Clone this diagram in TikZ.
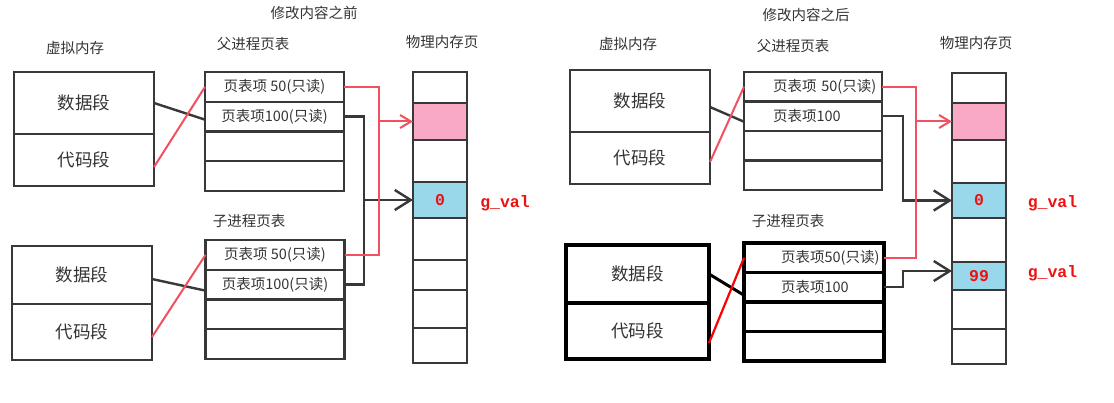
\documentclass[tikz,border=0pt]{standalone}
\usepackage{fontspec}
\setmainfont{Noto Sans CJK SC}
\newfontfamily\valfont{Liberation Mono}
\usetikzlibrary{arrows.meta, positioning, calc}
\definecolor{inkgray}{HTML}{383838}
\definecolor{textgray}{HTML}{333333}
\definecolor{penred}{HTML}{F0505F}
\definecolor{valred}{HTML}{EE1111}
\definecolor{pagepink}{HTML}{F9A9C6}
\definecolor{pageblue}{HTML}{98D8EA}
\newcommand{\fs}[1]{\fontsize{#1}{#1}\selectfont}

\begin{document}
\begin{tikzpicture}[x=1pt, y=-1pt,
    head/.style={text=textgray, font=\fs{14.5}},
    seg/.style={draw=inkgray, line width=2.4pt, outer sep=0pt, minimum width=140pt, text=textgray, font=\fs{17.5}},
    boldseg/.style={seg, draw=black, line width=3.4pt, minimum width=143pt},
    entry/.style={draw=inkgray, line width=2.4pt, outer sep=0pt, inner sep=0pt, minimum width=139pt, minimum height=29.75pt, text=textgray, font=\fs{14.5}},
    boldentry/.style={entry, draw=black, line width=3.4pt, minimum height=29.5pt},
    page/.style={draw=inkgray, line width=2.4pt, outer sep=0pt, inner sep=0pt, minimum width=54pt, text=valred, font=\valfont\bfseries\fs{16.5}},
    val/.style={text=valred, font=\valfont\bfseries\fs{16.5}},
    penline/.style={draw=penred, line width=2pt},
    inkline/.style={draw=inkgray, line width=2.4pt},
    pen/.style={penline, -{Straight Barb[length=11pt,width=13pt]}},
    ink/.style={inkline, -{Straight Barb[length=16pt,width=20pt]}}]
          \useasboundingbox (0,0) rectangle (1114,403);

          \node[head] (titleL) at (314,13) {修改内容之前};
          \node[head] (virtL) at (75,48) {虚拟内存};
          \node[head] (ptabL) at (253,44) {父进程页表};
          \node[head] (physL) at (442,42) {物理内存页};
          \node[head] (ctabL) at (249,221) {子进程页表};

          \node[seg, minimum height=62pt] (vLd) at (84,103) {数据段};
          \node[seg, minimum height=52pt] (vLc) at (84,160) {代码段};
          \node[seg, minimum height=58pt] (vLcd) at (82,275) {数据段};
          \node[seg, minimum height=56pt] (vLcc) at (82,332) {代码段};

          \node[entry] (tLp1) at (274.5,86.9) {页表项 50(只读)};
          \node[entry, below=0pt of tLp1] (tLp2) {页表项100(只读)};
          \node[entry, below=0pt of tLp2] (tLp3) {};
          \node[entry, below=0pt of tLp3] (tLp4) {};
          \node[entry] (tLc1) at (275,254.9) {页表项 50(只读)};
          \node[entry, below=0pt of tLc1] (tLc2) {页表项100(只读)};
          \node[entry, below=0pt of tLc2] (tLc3) {};
          \node[entry, below=0pt of tLc3] (tLc4) {};

          \foreach \ya/\yb/\col/\num [count=\i] in {72/103/white/{},103/140/pagepink/{},140/182/white/{},182/218/pageblue/0,218/260/white/{},260/290/white/{},290/328/white/{},328/363/white/{}}
            \node[page, fill=\col, minimum height={(\yb-\ya)*1pt}] (pL\i) at (440,{(\ya+\yb)/2}) {\num};
          \node[val] (gvL) at (505,203) {g\_val};

          \draw[inkline] (vLd.east) -- ([yshift=-3pt]tLp2.west);
          \draw[penline] ([yshift=-7pt]vLc.east) -- (tLp1.west);
          \draw[inkline] ([yshift=-4pt]vLcd.east) -- ([yshift=-6pt]tLc2.west);
          \draw[penline] ([yshift=-5pt]vLcc.east) -- (tLc1.west);

          \coordinate (redL) at (379,0);
          \coordinate (inkL) at (364,0);
          \draw[inkline] (tLp2.east) -| (inkL |- tLc2.east) -- (tLc2.east);
          \draw[ink] (inkL |- pL4.west) -- (pL4.west);
          \draw[penline] (tLp1.east) -| (redL |- tLc1.east) -- (tLc1.east);
          \draw[pen] (redL |- pL2.west) -- (pL2.west);

          \node[head] (titleR) at (806,15) {修改内容之后};
          \node[head] (virtR) at (628,44) {虚拟内存};
          \node[head] (ptabR) at (793,46) {父进程页表};
          \node[head] (physR) at (976,43) {物理内存页};
          \node[head] (ctabR) at (788,221) {子进程页表};

          \node[seg, minimum height=62pt] (vRd) at (640,101) {数据段};
          \node[seg, minimum height=52pt] (vRc) at (640,158) {代码段};
          \node[boldseg, minimum height=58pt] (vRcd) at (637.5,274) {数据段};
          \node[boldseg, minimum height=56pt] (vRcc) at (637.5,331) {代码段};

          \node[entry, minimum width=138pt, text width=138pt, align=left, minimum height=29.5pt] (tRp1) at (813,86.75) {\hspace*{29pt}页表项 50(只读)};
          \node[entry, minimum width=138pt, text width=138pt, align=left, minimum height=29.5pt, below=0pt of tRp1] (tRp2) {\hspace*{29pt}页表项100};
          \node[entry, minimum width=138pt, minimum height=29.5pt, below=0pt of tRp2] (tRp3) {};
          \node[entry, minimum width=138pt, minimum height=29.5pt, below=0pt of tRp3] (tRp4) {};
          \node[boldentry, minimum width=140pt, text width=140pt, align=left] (tRc1) at (814,257.75) {\hspace*{37pt}页表项50(只读)};
          \node[boldentry, minimum width=140pt, text width=140pt, align=left, below=0pt of tRc1] (tRc2) {\hspace*{37pt}页表项100};
          \node[boldentry, minimum width=140pt, below=0pt of tRc2] (tRc3) {};
          \node[boldentry, minimum width=140pt, below=0pt of tRc3] (tRc4) {};

          \foreach \ya/\yb/\col/\num [count=\i] in {73/103/white/{},103/140/pagepink/{},140/183/white/{},183/218/pageblue/0,218/262/white/{},262/290/pageblue/99,290/329/white/{},329/364/white/{}}
            \node[page, fill=\col, minimum height={(\yb-\ya)*1pt}] (pR\i) at (979,{(\ya+\yb)/2}) {\num};
          \node[val] (gvR1) at (1052.5,203) {g\_val};
          \node[val] (gvR2) at (1052.5,273) {g\_val};

          \draw[inkline] ([yshift=-6pt]vRd.east) -- ([yshift=-5.5pt]tRp2.west);
          \draw[penline] ([yshift=-4pt]vRc.east) -- (tRp1.west);
          \draw[line width=3pt] (vRcd.east) -- ([yshift=-8pt]tRc2.west);
          \draw[red, line width=2.2pt] ([yshift=-12pt]vRcc.east) -- (tRc1.west);

          \coordinate (redR) at (916,0);
          \coordinate (inkR) at (903,0);
          \coordinate (in99) at ([yshift=5pt]pR6.west);
          \draw[ink] (tRp2.east) -| (inkR |- pR4.west) -- (pR4.west);
          \draw[ink] (tRc2.east) -| (inkR |- in99) -- (in99);
          \draw[penline] (tRp1.east) -| (redR |- tRc1.east) -- (tRc1.east);
          \draw[pen] (redR |- pR2.west) -- (pR2.west);
        \end{tikzpicture}
\end{document}
